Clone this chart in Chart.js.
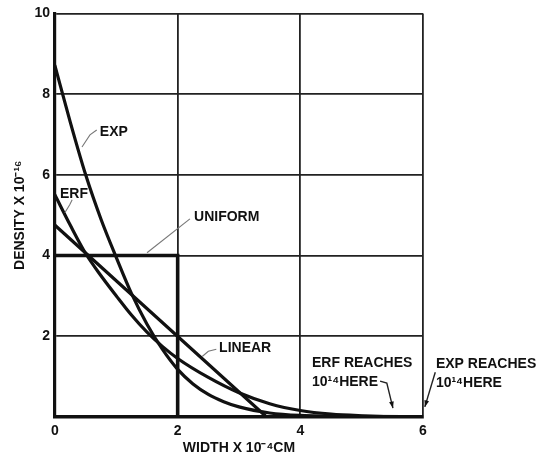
<!DOCTYPE html>
<html>
<head>
<meta charset="utf-8">
<script src="https://cdn.jsdelivr.net/npm/chart.js@4.4.1/dist/chart.umd.min.js"></script>
<style>
  html, body { margin: 0; padding: 0; background: #fff; }
  #wrap { width: 545px; height: 462px; }
</style>
</head>
<body>
<div id="wrap"><canvas id="densityChart" width="545" height="462"></canvas></div>
<script>
// Values (density in units of 1e16, width in units of 1e-4 cm)
const widthExp = [0, 0.25, 0.5, 0.75, 1, 1.25, 1.5, 1.75, 2, 2.25, 2.5, 2.75, 3, 3.5, 4, 5, 6];
const densityExp = [8.7, 7.3, 6.0, 4.9, 3.95, 3.05, 2.3, 1.68, 1.18, 0.82, 0.56, 0.38, 0.25, 0.1, 0.04, 0.015, 0.01];

const widthErf = [0, 0.25, 0.5, 0.75, 1, 1.25, 1.5, 1.75, 2, 2.5, 3, 3.5, 4, 4.5, 5, 5.5, 6];
const densityErf = [5.5, 4.75, 4.05, 3.5, 3.0, 2.52, 2.1, 1.75, 1.45, 0.98, 0.6, 0.33, 0.16, 0.07, 0.03, 0.01, 0.005];

const widthLinear = [0, 3.45];
const densityLinear = [4.75, 0];

const widthUniform = [0, 2, 2];
const densityUniform = [4, 4, 0];

const xTicks = [0, 2, 4, 6];
const yTicks = [2, 4, 6, 8, 10];

// text labels placed in data units
const labelTexts = [
  { lines: ["EXP"], x: 0.96, y: 7.06, align: "center" },
  { lines: ["ERF"], x: 0.31, y: 5.53, align: "center" },
  { lines: ["UNIFORM"], x: 2.8, y: 4.94, align: "center" },
  { lines: ["LINEAR"], x: 3.1, y: 1.7, align: "center" },
  { lines: ["ERF REACHES", "10¹⁴HERE"], x: 4.19, y: 1.33, align: "left" },
  { lines: ["EXP REACHES", "10¹⁴HERE"], x: 6.21, y: 1.31, align: "left" },
];
const leaderLines = [
  { pts: [[0.68, 7.11], [0.57, 6.99], [0.44, 6.69]], arrow: false },
  { pts: [[0.28, 5.38], [0.24, 5.26], [0.16, 5.06]], arrow: false },
  { pts: [[2.2, 4.91], [1.5, 4.07]], arrow: false },
  { pts: [[2.63, 1.68], [2.5, 1.63], [2.4, 1.5]], arrow: false },
  { pts: [[5.3, 0.89], [5.41, 0.84], [5.51, 0.22]], arrow: true },
  { pts: [[6.2, 1.11], [6.03, 0.25]], arrow: true },
];

function toPoints(xs, ys) {
  return xs.map((x, i) => ({ x: x, y: ys[i] }));
}

const FONT = '"Liberation Sans", Arial, sans-serif';
const INK = "#111";

const labelPlugin = {
  id: "figureLabels",
  afterDatasetsDraw(chart) {
    const ctx = chart.ctx;
    const xs = chart.scales.x;
    const ys = chart.scales.y;
    ctx.save();
    leaderLines.forEach((l) => {
      const p = l.pts.map((q) => [xs.getPixelForValue(q[0]), ys.getPixelForValue(q[1])]);
      ctx.beginPath();
      ctx.strokeStyle = l.arrow ? "#222" : "#777";
      ctx.lineWidth = l.arrow ? 1.4 : 1.1;
      ctx.moveTo(p[0][0], p[0][1]);
      for (let i = 1; i < p.length; i++) ctx.lineTo(p[i][0], p[i][1]);
      ctx.stroke();
      if (l.arrow) {
        const a = p[p.length - 2], b = p[p.length - 1];
        const ang = Math.atan2(b[1] - a[1], b[0] - a[0]);
        ctx.beginPath();
        ctx.fillStyle = "#111";
        ctx.moveTo(b[0], b[1]);
        ctx.lineTo(b[0] - 7 * Math.cos(ang - 0.35), b[1] - 7 * Math.sin(ang - 0.35));
        ctx.lineTo(b[0] - 7 * Math.cos(ang + 0.35), b[1] - 7 * Math.sin(ang + 0.35));
        ctx.closePath();
        ctx.fill();
      }
    });
    ctx.fillStyle = INK;
    ctx.font = "bold 14px " + FONT;
    ctx.textBaseline = "middle";
    labelTexts.forEach((t) => {
      ctx.textAlign = t.align;
      const px = xs.getPixelForValue(t.x);
      const py = ys.getPixelForValue(t.y);
      t.lines.forEach((line, i) => ctx.fillText(line, px, py + i * 19));
    });
    ctx.restore();
  },
};

new Chart(document.getElementById("densityChart"), {
  type: "line",
  data: {
    datasets: [
      { label: "EXP", data: toPoints(widthExp, densityExp), cubicInterpolationMode: "monotone" },
      { label: "ERF", data: toPoints(widthErf, densityErf), cubicInterpolationMode: "monotone" },
      { label: "LINEAR", data: toPoints(widthLinear, densityLinear) },
      { label: "UNIFORM", data: toPoints(widthUniform, densityUniform), borderWidth: 3.6 },
    ].map((d) => Object.assign({
      borderColor: INK,
      borderWidth: 3.2,
      pointRadius: 0,
      fill: false,
      tension: 0,
      borderCapStyle: "round",
    }, d)),
  },
  options: {
    responsive: false,
    animation: false,
    devicePixelRatio: 1,
    layout: { padding: { top: 12, right: 122, left: 0, bottom: 0 } },
    plugins: { legend: { display: false }, tooltip: { enabled: false } },
    scales: {
      x: {
        type: "linear",
        min: 0,
        max: 6,
        afterFit(scale) { scale.height = 45; },
        afterBuildTicks(scale) { scale.ticks = xTicks.map((v) => ({ value: v })); },
        grid: { color: "#222", lineWidth: 1.8, drawTicks: false },
        border: { color: INK, width: 3.5 },
        ticks: { color: INK, padding: 6, font: { family: FONT, size: 14, weight: "bold" } },
        title: {
          display: true,
          text: "WIDTH X 10⁻⁴CM",
          color: INK,
          padding: { top: 0, bottom: 5 },
          font: { family: FONT, size: 14, weight: "bold" },
        },
      },
      y: {
        type: "linear",
        min: 0,
        max: 10,
        afterFit(scale) { scale.width = 55; },
        afterBuildTicks(scale) { scale.ticks = [0].concat(yTicks).map((v) => ({ value: v })); },
        grid: { color: "#222", lineWidth: 1.8, drawTicks: false },
        border: { color: INK, width: 3.2 },
        ticks: {
          color: INK,
          padding: 5,
          font: { family: FONT, size: 14, weight: "bold" },
          callback: (v) => (v === 0 ? "" : String(v)),
        },
        title: {
          display: true,
          text: "DENSITY X 10⁻¹⁶",
          color: INK,
          padding: { top: 12, bottom: 0 },
          font: { family: FONT, size: 14, weight: "bold" },
        },
      },
    },
  },
  plugins: [labelPlugin],
});
</script>
</body>
</html>
